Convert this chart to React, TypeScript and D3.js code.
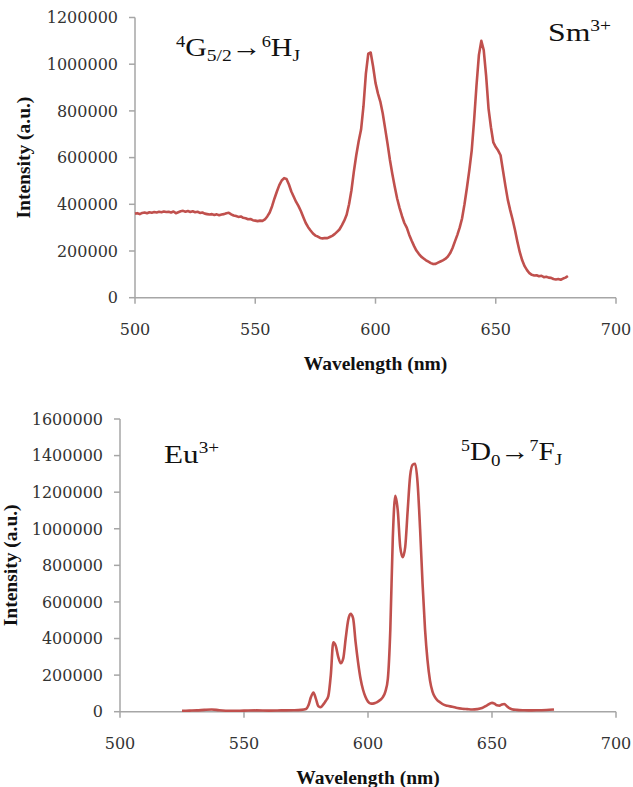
import React from 'react';
import * as d3 from 'd3';

// ---------- data ----------
const wavelengthTicks = [500, 550, 600, 650, 700];
const smIntensityTicks = [0, 200000, 400000, 600000, 800000, 1000000, 1200000];
const euIntensityTicks = [0, 200000, 400000, 600000, 800000, 1000000, 1200000, 1400000, 1600000];

// Sm3+ emission, sampled every 1 nm from 500 to 680 nm
const smWavelength = d3.range(500, 681);
const smIntensity = [
  360000, 362000, 358000, 363000, 365000, 362000, 366000, 364000, 367000, 365000,
  368000, 366000, 369000, 367000, 368000, 365000, 369000, 362000, 366000, 370000,
  372000, 368000, 371000, 367000, 370000, 366000, 368000, 363000, 365000, 360000,
  358000, 356000, 358000, 354000, 357000, 353000, 356000, 358000, 362000, 364000,
  357000, 352000, 350000, 346000, 348000, 342000, 340000, 336000, 337000, 332000,
  330000, 328000, 330000, 329000, 335000, 348000, 365000, 392000, 425000, 455000,
  482000, 502000, 512000, 508000, 485000, 455000, 432000, 410000, 392000, 370000,
  345000, 320000, 302000, 288000, 275000, 266000, 262000, 256000, 254000, 256000,
  255000, 260000, 265000, 272000, 282000, 292000, 310000, 330000, 355000, 400000,
  460000, 540000, 610000, 670000, 720000, 820000, 960000, 1045000, 1050000, 990000,
  920000, 875000, 840000, 790000, 725000, 660000, 590000, 530000, 475000, 425000,
  385000, 350000, 320000, 300000, 270000, 245000, 222000, 202000, 188000, 176000,
  168000, 160000, 154000, 148000, 144000, 145000, 150000, 155000, 160000, 166000,
  175000, 190000, 212000, 240000, 268000, 300000, 340000, 400000, 470000, 545000,
  630000, 760000, 910000, 1040000, 1100000, 1060000, 950000, 810000, 730000, 665000,
  645000, 630000, 610000, 545000, 480000, 420000, 375000, 335000, 290000, 240000,
  195000, 160000, 135000, 118000, 105000, 98000, 95000, 96000, 92000, 94000,
  88000, 90000, 86000, 85000, 80000, 78000, 80000, 77000, 82000, 86000,
  93000,
];

// Eu3+ emission
const euWavelength = [
  525, 528, 531, 534, 537, 540, 545, 550, 555, 560,
  565, 570, 573, 575, 576, 577, 578, 579, 580, 581,
  582, 583, 584, 585, 586, 587, 588, 589, 590, 591,
  592, 593, 594, 595, 596, 597, 598, 599, 600, 601,
  602, 603, 604, 605, 606, 607, 608, 609, 610, 611,
  612, 613, 614, 615, 616, 617, 618, 619, 620, 621,
  622, 623, 624, 625, 626, 627, 628, 629,
  630, 632, 634, 636, 638, 640, 642, 644, 646, 648,
  650, 651, 652, 653, 654, 655, 656, 657, 658, 660,
  663, 666, 669, 672, 675,
];
const euIntensity = [
  5000, 6000, 7000, 10000, 12000, 8000, 5000, 6000, 7000, 6000,
  7000, 8000, 10000, 15000, 35000, 80000, 105000, 70000, 30000, 25000,
  40000, 60000, 85000, 200000, 380000, 360000, 300000, 265000, 290000, 400000,
  500000, 535000, 510000, 380000, 270000, 180000, 120000, 80000, 55000, 45000,
  44000, 48000, 55000, 65000, 80000, 110000, 180000, 450000, 950000, 1180000,
  1100000, 900000, 845000, 900000, 1100000, 1290000, 1350000, 1355000, 1250000, 1000000,
  700000, 450000, 280000, 170000, 110000, 80000, 62000, 52000,
  42000, 32000, 27000, 20000, 16000, 14000, 12000, 14000, 20000, 35000,
  48000, 44000, 35000, 33000, 40000, 42000, 30000, 20000, 14000, 10000,
  8000, 7000, 8000, 9000, 12000,
];

// ---------- styles ----------
const LINE = '#C0504D';
const AXIS = '#A6A6A6';
const TICK_FONT = '"DejaVu Serif", serif';
const TITLE_FONT = '"Liberation Serif", serif';
const ANN_FONT = '"Liberation Serif", "Times New Roman", serif';

type PanelProps = {
  wl: number[];
  val: number[];
  yTicks: number[];
  left: number;
  right: number;
  top: number;
  bottom: number;
  curve: d3.CurveFactory;
  yTitleX: number;
};

function Panel({ wl, val, yTicks, left, right, top, bottom, curve, yTitleX }: PanelProps) {
  const x = d3.scaleLinear().domain([500, 700]).range([left, right]);
  const y = d3.scaleLinear().domain([0, yTicks[yTicks.length - 1]]).range([bottom, top]);
  const pts = wl.map((w, i) => [w, val[i]] as [number, number]);
  const line = d3.line<[number, number]>().x(d => x(d[0])).y(d => y(d[1])).curve(curve);
  const midX = (left + right) / 2;
  const midY = (top + bottom) / 2;
  return (
    <g>
      <line x1={left} x2={left} y1={y(yTicks[yTicks.length - 1])} y2={bottom} stroke={AXIS} strokeWidth={1.5} />
      <line x1={left} x2={x(700)} y1={bottom} y2={bottom} stroke={AXIS} strokeWidth={1.5} />
      {yTicks.map(t => (
        <g key={'y' + t}>
          <line x1={left - 6} x2={left} y1={y(t)} y2={y(t)} stroke={AXIS} strokeWidth={1.5} />
          <text x={left - 17} y={y(t)} dy="0.36em" textAnchor="end" fontFamily={TICK_FONT} fontSize={16} fill="#333">{t}</text>
        </g>
      ))}
      {wavelengthTicks.map(t => (
        <g key={'x' + t}>
          <line x1={x(t)} x2={x(t)} y1={bottom} y2={bottom + 6} stroke={AXIS} strokeWidth={1.5} />
          <text x={x(t)} y={bottom + 37} textAnchor="middle" fontFamily={TICK_FONT} fontSize={16} fill="#333">{t}</text>
        </g>
      ))}
      <text x={midX} y={bottom + 72} textAnchor="middle" fontFamily={TITLE_FONT} fontWeight="bold" fontSize={19.5} fill="#111">Wavelength (nm)</text>
      <text transform={`translate(${yTitleX},${midY}) rotate(-90)`} textAnchor="middle" fontFamily={TITLE_FONT} fontWeight="bold" fontSize={19.5} fill="#111">Intensity (a.u.)</text>
      <path d={line(pts) || ''} fill="none" stroke={LINE} strokeWidth={2.6} strokeLinejoin="round" />
    </g>
  );
}

export default function App() {
  const sup = { fontSize: 16 };
  return (
    <svg width={633} height={787} style={{ position: 'absolute', left: 0, top: 0, background: '#fff' }}>
      <Panel wl={smWavelength} val={smIntensity} yTicks={smIntensityTicks}
        left={135} right={616} top={17.5} bottom={297.7} curve={d3.curveLinear} yTitleX={30} />
      <Panel wl={euWavelength} val={euIntensity} yTicks={euIntensityTicks}
        left={120} right={616} top={419} bottom={711.7} curve={d3.curveMonotoneX} yTitleX={17} />

      {/* annotations */}
      <g transform="translate(176,55.7) scale(1.15,1)">
        <text fontFamily={ANN_FONT} fontSize={26} fill="#111">
          <tspan {...sup} dy={-9}>4</tspan>
          <tspan dy={9}>G</tspan>
          <tspan fontSize={17} dy={5}>5/2</tspan>
          <tspan dy={-5}>→</tspan>
          <tspan {...sup} dy={-9}>6</tspan>
          <tspan dy={9}>H</tspan>
          <tspan fontSize={17} dy={5}>J</tspan>
        </text>
      </g>
      <g transform="translate(548,40.7) scale(1.22,1)">
        <text fontFamily={ANN_FONT} fontSize={26} fill="#111">
          <tspan>Sm</tspan>
          <tspan {...sup} dy={-10}>3+</tspan>
        </text>
      </g>
      <g transform="translate(164,463.3) scale(1.2,1)">
        <text fontFamily={ANN_FONT} fontSize={26} fill="#111">
          <tspan>Eu</tspan>
          <tspan {...sup} dy={-10}>3+</tspan>
        </text>
      </g>
      <g transform="translate(461,460) scale(1.12,1)">
        <text fontFamily={ANN_FONT} fontSize={26} fill="#111">
          <tspan {...sup} dy={-9}>5</tspan>
          <tspan dy={9}>D</tspan>
          <tspan fontSize={17} dy={6}>0</tspan>
          <tspan dy={-6}>→</tspan>
          <tspan {...sup} dy={-9}>7</tspan>
          <tspan dy={9}>F</tspan>
          <tspan fontSize={17} dy={5}>J</tspan>
        </text>
      </g>
    </svg>
  );
}
